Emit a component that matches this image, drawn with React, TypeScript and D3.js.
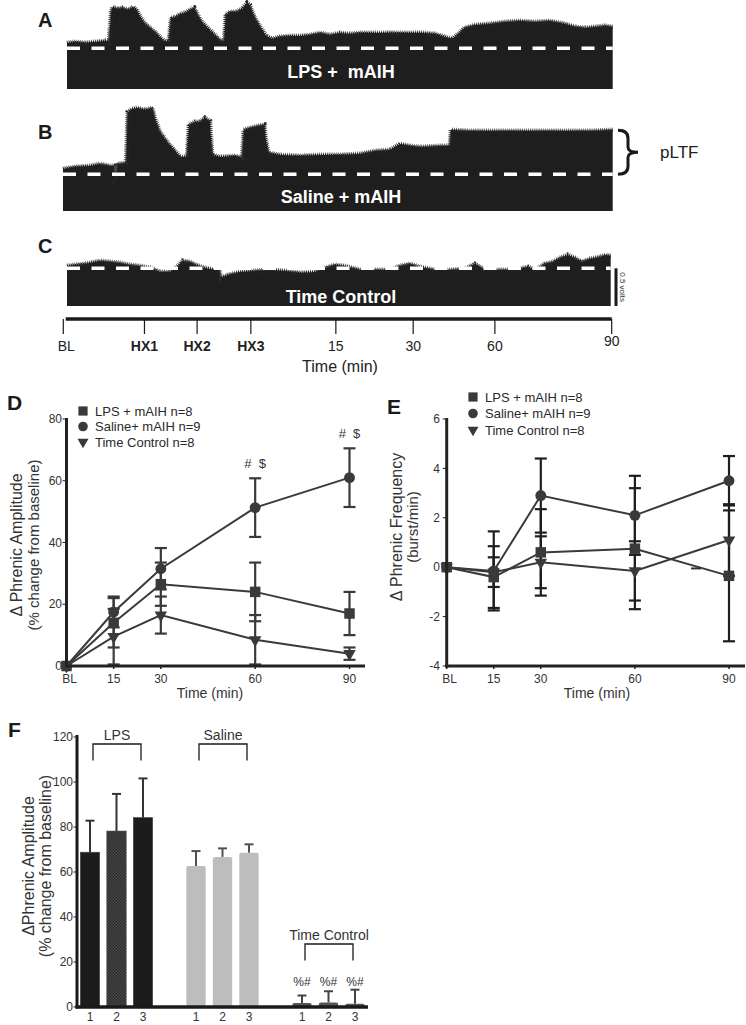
import React from 'react';
import * as d3 from 'd3';

const FONT = 'Liberation Sans, Arial, Helvetica, sans-serif';

// ---------- Raw traces: [percent of recording, volts relative to baseline] ----------
const traceA: [number, number][] = [
  [0, 0.065], [1.5, 0.077], [3.3, 0.065], [5.1, 0.077], [7.0, 0.09], [7.7, 0.077], [8.1, 0.446], [8.4, 0.507],
  [9.3, 0.483], [10.1, 0.495], [11.2, 0.47], [12.1, 0.507], [12.8, 0.47], [13.4, 0.385], [14.3, 0.3], [15.2, 0.25],
  [16.1, 0.2], [17.0, 0.139], [18.0, 0.077], [18.7, 0.1], [19.1, 0.372], [19.8, 0.38], [20.7, 0.42], [21.6, 0.434],
  [22.5, 0.47], [23.3, 0.495], [23.8, 0.42], [24.7, 0.323], [25.8, 0.25], [26.9, 0.176], [28.0, 0.1], [28.8, 0.077],
  [29.1, 0.41], [29.9, 0.446], [31.0, 0.446], [32.1, 0.483], [33.0, 0.556], [33.5, 0.532], [34.3, 0.385],
  [35.4, 0.262], [36.5, 0.151], [37.6, 0.114], [39.0, 0.139], [40.9, 0.151], [42.7, 0.151], [44.5, 0.163],
  [46.4, 0.188], [48.2, 0.163], [50.0, 0.188], [51.9, 0.176], [53.7, 0.188], [56.4, 0.188], [59.2, 0.19],
  [61.9, 0.188], [64.7, 0.19], [67.4, 0.176], [69.3, 0.139], [70.6, 0.114], [71.7, 0.176], [72.9, 0.25],
  [74.8, 0.286], [77.5, 0.3], [80.3, 0.323], [83.0, 0.335], [85.8, 0.323], [88.5, 0.335], [91.3, 0.3],
  [93.1, 0.262], [94.9, 0.25], [96.8, 0.262], [98.6, 0.275], [100, 0.262],
];

const traceB: [number, number][] = [
  [0, 0.072], [2.2, 0.099], [4.9, 0.113], [6.7, 0.14], [8.6, 0.113], [9.3, 0.113], [9.5, -0.091], [9.7, -0.091],
  [9.9, 0.14], [11.5, 0.154], [11.8, 0.849], [12.6, 0.89], [13.6, 0.903], [14.9, 0.876], [16.2, 0.903],
  [16.7, 0.767], [17.6, 0.576], [19.1, 0.426], [20.4, 0.317], [21.3, 0.236], [22.6, 0.236], [22.9, 0.672],
  [24.0, 0.712], [24.9, 0.712], [25.8, 0.767], [26.7, 0.726], [27.1, 0.263], [28.6, 0.236], [31.3, 0.249],
  [32.6, 0.222], [32.9, 0.603], [34.0, 0.63], [35.5, 0.658], [36.6, 0.672], [36.9, 0.467], [37.3, 0.29],
  [39.5, 0.263], [43.1, 0.249], [46.8, 0.263], [50.4, 0.263], [54.0, 0.277], [56.8, 0.317], [59.5, 0.331],
  [61.3, 0.412], [63.1, 0.385], [65.0, 0.371], [68.6, 0.385], [70.4, 0.385], [70.6, 0.603], [74.0, 0.589],
  [79.5, 0.589], [85.0, 0.589], [90.4, 0.589], [95.9, 0.589], [100, 0.603],
];

const traceC: [number, number][] = [
  [0, 0.03], [1.5, 0.044], [3.3, 0.057], [5.1, 0.084], [6.1, 0.097], [7.9, 0.084], [9.7, 0.07], [11.6, 0.044],
  [13.4, 0.03], [15.3, 0.004], [17.1, -0.049], [18.9, -0.049], [20.4, 0.03], [21.3, 0.097], [22.6, 0.084],
  [23.7, 0.044], [25.4, 0.004], [27.2, -0.023], [28.0, -0.023], [28.3, -0.129], [29.6, -0.089], [31.8, -0.049],
  [34.6, -0.036], [37.3, -0.023], [40.1, -0.036], [42.9, -0.062], [45.6, -0.049], [47.5, 0.004], [49.3, 0.044],
  [51.1, 0.03], [53.9, -0.023], [56.6, -0.023], [59.4, -0.023], [61.2, 0.03], [63.1, 0.057], [64.9, 0.017],
  [67.7, -0.023], [70.4, -0.023], [73.2, -0.009], [75.0, 0.057], [76.8, -0.023], [79.6, -0.023], [82.4, -0.023],
  [84.8, 0.017], [86.1, -0.023], [87.9, 0.057], [89.4, 0.084], [90.7, 0.137], [92.1, 0.176], [93.4, 0.137],
  [94.7, 0.084], [96.2, 0.123], [98.0, 0.15], [99.1, 0.176], [100, 0.163],
];

const traceLabels = ['LPS +  mAIH', 'Saline + mAIH', 'Time Control'];
const traceLetters = ['A', 'B', 'C'];
const pltfLevel = 0.6;

// time axis under traces (percent of recording)
const timeAxisLabels = ['BL', 'HX1', 'HX2', 'HX3', '15', '30', '60', '90'];
const timeAxisPos = [0, 14.8, 24.4, 34.2, 49.7, 63.8, 78.7, 100];

// ---------- Panels D & E ----------
const timeMin = [0, 15, 30, 60, 90];
const timeTickLabels = ['BL', '15', '30', '60', '90'];
const seriesNames = ['LPS + mAIH n=8', 'Saline+ mAIH n=9', 'Time Control n=8'];

const ampLPS = [0, 14, 26.5, 24, 17];
const ampLPSse = [0, 8, 7, 9.5, 7];
const ampSal = [0, 17.5, 31.5, 51.3, 61];
const ampSalse = [0, 5, 6.7, 9.5, 9.5];
const ampTC = [0, 9.5, 16.5, 8.5, 4];
const ampTCse = [0, 9, 6, 8, 2];
const ampTicks = [0, 20, 40, 60, 80];
const ampSigIdx = [3, 4];

const freqLPS = [0, -0.4, 0.6, 0.75, -0.35];
const freqLPSse = [0, 1.25, 1.75, 2.45, 2.65];
const freqSal = [0, -0.15, 2.9, 2.1, 3.5];
const freqSalse = [0, 1.6, 1.5, 1.6, 1.0];
const freqTC = [0, -0.2, 0.2, -0.15, 1.1];
const freqTCse = [0, 0.6, 1.05, 1.2, 1.45];
const freqTicks = [-4, -2, 0, 2, 4, 6];
const freqStray = { t: 79.5, v: -0.05 };

// ---------- Panel F ----------
const fGroups = ['LPS', 'Saline', 'Time Control'];
const fBarLabels = ['1', '2', '3'];
const fValues = [[68.8, 78.2, 84.2], [62.7, 66.7, 68.6], [1.8, 2.0, 1.5]];
const fErrors = [[14, 16.5, 17.4], [6.6, 3.8, 3.7], [3.3, 5.0, 6.2]];
const fSig = ['%#', '%#', '%#'];
const fTicks = [0, 20, 40, 60, 80, 100, 120];

function Trace({ data, x0, x1, base, bottom }: any) {
  const xs = d3.scaleLinear().domain([0, 100]).range([x0, x1]);
  const ys = d3.scaleLinear().domain([-0.5, 0]).range([bottom, base]);
  const area = d3.area<[number, number]>().x(d => xs(d[0])).y0(bottom).y1(d => ys(d[1]));
  const line = d3.line<[number, number]>().x(d => xs(d[0])).y(d => ys(d[1]));
  const ld = line(data) || '';
  return (
    <g>
      <path d={area(data) || ''} fill="#1e1e1e" />
      <path d={ld} fill="none" stroke="#2a2a2a" strokeWidth={5} strokeDasharray="0.6 1.3" />
      <path d={ld} fill="none" stroke="#1e1e1e" strokeWidth={2.5} strokeDasharray="1.2 0.8" />
      <line x1={x0} x2={x1} y1={base} y2={base} stroke="#fff" strokeWidth={3.5} strokeDasharray="13 11.5" />
    </g>
  );
}

function symbolPath(kind: number, size: number) {
  if (kind === 0) return d3.symbol().type(d3.symbolSquare).size(size)() || '';
  if (kind === 1) return d3.symbol().type(d3.symbolCircle).size(size * 0.85)() || '';
  return d3.symbol().type(d3.symbolTriangle).size(size * 0.62)() || '';
}

function LinePanel({ xS, yS, series, ses, color, ebColor, legendX, legendY, legendDy }: any) {
  return (
    <g>
      {series.map((vals: number[], si: number) => (
        <g key={'eb' + si}>
          {vals.map((v, i) => ses[si][i] > 0 ? (
            <g key={i} stroke={ebColor} strokeWidth={2.2}>
              <line x1={xS(timeMin[i])} x2={xS(timeMin[i])} y1={yS(v - ses[si][i])} y2={yS(v + ses[si][i])} />
              <line x1={xS(timeMin[i]) - 6} x2={xS(timeMin[i]) + 6} y1={yS(v - ses[si][i])} y2={yS(v - ses[si][i])} />
              <line x1={xS(timeMin[i]) - 6} x2={xS(timeMin[i]) + 6} y1={yS(v + ses[si][i])} y2={yS(v + ses[si][i])} />
            </g>
          ) : null)}
        </g>
      ))}
      {series.map((vals: number[], si: number) => {
        const ln = d3.line<number>().x((_, i) => xS(timeMin[i])).y(d => yS(d));
        return <path key={'l' + si} d={ln(vals) || ''} fill="none" stroke={color} strokeWidth={2} />;
      })}
      {series.map((vals: number[], si: number) => (
        <g key={'m' + si}>
          {vals.map((v, i) => (
            <path key={i} d={symbolPath(si, 110)} fill={color}
              transform={`translate(${xS(timeMin[i])},${yS(v)})${si === 2 ? ' rotate(180)' : ''}`} />
          ))}
        </g>
      ))}
      {seriesNames.map((n, si) => (
        <g key={'lg' + si}>
          <path d={symbolPath(si, 85)} fill={color}
            transform={`translate(${legendX},${legendY + si * legendDy})${si === 2 ? ' rotate(180)' : ''}`} />
          <text x={legendX + 12} y={legendY + si * legendDy} dy="0.36em" fontSize={13} fill="#2a2a2a">{n}</text>
        </g>
      ))}
    </g>
  );
}

export default function App() {
  const W = 746, H = 1025;
  const traces = [traceA, traceB, traceC];
  const boxes = [
    { x0: 67, x1: 612.7, base: 48.3, bottom: 89, letterY: 27, labelY: 78 },
    { x0: 63, x1: 612.7, base: 174.3, bottom: 211, letterY: 139, labelY: 203 },
    { x0: 67, x1: 610.7, base: 268.3, bottom: 306, letterY: 253, labelY: 302.5 },
  ];
  const yB = d3.scaleLinear().domain([-0.5, 0]).range([boxes[1].bottom, boxes[1].base]);
  const yC = d3.scaleLinear().domain([-0.5, 0]).range([boxes[2].bottom, boxes[2].base]);
  const tAx = d3.scaleLinear().domain([0, 100]).range([63.3, 611.7]);

  // brace
  const braceTop = yB(pltfLevel), braceBot = yB(0), braceMid = (braceTop + braceBot) / 2;
  const bx = 618;
  const braceD = `M${bx},${braceTop} Q${bx + 10},${braceTop} ${bx + 10},${braceTop + 8} L${bx + 10},${braceMid - 5} Q${bx + 10},${braceMid} ${bx + 20},${braceMid} Q${bx + 10},${braceMid} ${bx + 10},${braceMid + 5} L${bx + 10},${braceBot - 8} Q${bx + 10},${braceBot} ${bx},${braceBot}`;

  // Panel D
  const dX = d3.scaleLinear().domain([0, 90]).range([66.5, 349.5]);
  const dY = d3.scaleLinear().domain([0, 80]).range([666, 419]);
  // Panel E
  const eX = d3.scaleLinear().domain([0, 90]).range([446.7, 729]);
  const eY = d3.scaleLinear().domain([-4, 6]).range([666, 419]);
  // Panel F
  const slots = d3.range(11).map(String);
  const fX = d3.scaleBand<string>().domain(slots).range([76.75, 368.25]).paddingInner(0.27).paddingOuter(0.135);
  const fY = d3.scaleLinear().domain([0, 120]).range([1007, 737]);
  const slotOf = (g: number, k: number) => String(g * 4 + k);
  const fColors = ['#1c1c1c', '#bdbdbd', '#555555'];
  const fEb = ['#333', '#505050', '#444'];
  const bracketTopVals = [116.9, 116.9, 28];
  const bracketDepth = 7.3;

  return (
    <svg width={W} height={H} viewBox={`0 0 ${W} ${H}`}
      style={{ position: 'absolute', left: 0, top: 0, display: 'block', background: '#fff', fontFamily: FONT }}
      fontFamily={FONT}>
      <defs>
        <pattern id="hatch" width="3" height="3" patternUnits="userSpaceOnUse">
          <rect width="3" height="3" fill="#2a2a2a" />
          <rect width="1.5" height="1.5" fill="#4a4a4a" />
          <rect x="1.5" y="1.5" width="1.5" height="1.5" fill="#4a4a4a" />
        </pattern>
      </defs>

      {/* ---------- Traces A, B, C ---------- */}
      {traces.map((t, i) => (
        <g key={'tr' + i}>
          <Trace data={t} {...boxes[i]} />
          <text x={38} y={boxes[i].letterY} fontSize={20} fontWeight="bold" fill="#1a1a1a">{traceLetters[i]}</text>
          <text x={341} y={boxes[i].labelY} fontSize={18} fontWeight="bold" fill="#fff" textAnchor="middle"
            style={{ whiteSpace: 'pre' }}>{traceLabels[i]}</text>
        </g>
      ))}
      <path d={braceD} fill="none" stroke="#1a1a1a" strokeWidth={3} />
      <text x={660} y={braceMid} dy="0.36em" fontSize={17} fill="#222">pLTF</text>

      {/* scale bar */}
      <line x1={616} x2={616} y1={yC(0)} y2={yC(-0.5)} stroke="#1a1a1a" strokeWidth={3} />
      <text transform={`translate(623,${(yC(0) + yC(-0.5)) / 2}) rotate(90)`} textAnchor="middle" dy="0.35em"
        fontSize={8} fill="#333">0.5 volts</text>

      {/* time axis */}
      <line x1={tAx(0) + 2.4} x2={tAx(100)} y1={319} y2={319} stroke="#1a1a1a" strokeWidth={3.5} />
      {timeAxisPos.map((p, i) => (
        <g key={'ta' + i}>
          <line x1={tAx(p)} x2={tAx(p)} y1={319} y2={334} stroke="#1a1a1a" strokeWidth={1.2} />
          <text x={tAx(p) + (i === 0 ? 3 : 0)} y={i === 7 ? 346 : 351} textAnchor="middle" fontSize={14}
            fontWeight={i >= 1 && i <= 3 ? 'bold' : 'normal'} fill="#222">{timeAxisLabels[i]}</text>
        </g>
      ))}
      <text x={340} y={372} textAnchor="middle" fontSize={16} fill="#222">Time (min)</text>

      {/* ---------- Panel D ---------- */}
      <text x={7} y={410} fontSize={21} fontWeight="bold" fill="#1a1a1a">D</text>
      {ampTicks.map(t => (
        <g key={'dt' + t}>
          <line x1={dX(0) - 4} x2={dX(0)} y1={dY(t)} y2={dY(t)} stroke="#222" strokeWidth={1} />
          <text x={62} y={dY(t)} dy="0.35em" textAnchor="end" fontSize={12} fill="#333">{t}</text>
        </g>
      ))}
      {timeMin.map((t, i) => (
        <g key={'dx' + i}>
          <line x1={dX(t)} x2={dX(t)} y1={666} y2={669} stroke="#222" strokeWidth={1.5} />
          <text x={dX(t) + (i === 0 ? 3 : 0)} y={683} textAnchor="middle" fontSize={12} fill="#333">{timeTickLabels[i]}</text>
        </g>
      ))}
      <text x={210} y={698} textAnchor="middle" fontSize={14} fill="#333">Time (min)</text>
      <text transform={`translate(16,545) rotate(-90)`} textAnchor="middle" dy="0.35em" fontSize={16} fill="#333">Δ Phrenic Amplitude</text>
      <text transform={`translate(34,545) rotate(-90)`} textAnchor="middle" dy="0.35em" fontSize={15} fill="#333">(% change from baseline)</text>
      <LinePanel xS={dX} yS={dY} series={[ampLPS, ampSal, ampTC]} ses={[ampLPSse, ampSalse, ampTCse]}
        color="#3a3a3a" ebColor="#3a3a3a" legendX={83} legendY={411} legendDy={15.5} />
      {ampSigIdx.map(i => (
        <text key={'sig' + i} x={dX(timeMin[i])} y={dY(ampSal[i] + ampSalse[i]) - 10} textAnchor="middle"
          fontSize={13} fill="#333" style={{ whiteSpace: 'pre' }}>#  $</text>
      ))}
      <line x1={dX(0)} x2={dX(0)} y1={418} y2={667.5} stroke="#222" strokeWidth={3} />
      <line x1={dX(0) - 1.5} x2={365} y1={666} y2={666} stroke="#222" strokeWidth={3} />

      {/* ---------- Panel E ---------- */}
      <text x={387} y={414} fontSize={21} fontWeight="bold" fill="#1a1a1a">E</text>
      {freqTicks.map(t => (
        <g key={'et' + t}>
          <line x1={eX(0) - 4} x2={eX(0)} y1={eY(t)} y2={eY(t)} stroke="#222" strokeWidth={1} />
          <text x={440} y={eY(t)} dy="0.35em" textAnchor="end" fontSize={12} fill="#333">{t}</text>
        </g>
      ))}
      {timeMin.map((t, i) => (
        <g key={'ex' + i}>
          <line x1={eX(t)} x2={eX(t)} y1={666} y2={669} stroke="#222" strokeWidth={1.5} />
          <text x={eX(t) + (i === 0 ? 3 : 0)} y={683} textAnchor="middle" fontSize={12} fill="#333">{timeTickLabels[i]}</text>
        </g>
      ))}
      <text x={597} y={698} textAnchor="middle" fontSize={14} fill="#333">Time (min)</text>
      <text transform={`translate(396,527) rotate(-90)`} textAnchor="middle" dy="0.35em" fontSize={16} fill="#333">Δ Phrenic Frequency</text>
      <text transform={`translate(413,527) rotate(-90)`} textAnchor="middle" dy="0.35em" fontSize={15} fill="#333">(burst/min)</text>
      <LinePanel xS={eX} yS={eY} series={[freqLPS, freqSal, freqTC]} ses={[freqLPSse, freqSalse, freqTCse]}
        color="#3a3a3a" ebColor="#1e1e1e" legendX={473} legendY={397} legendDy={16.5} />
      <line x1={eX(freqStray.t) - 5} x2={eX(freqStray.t) + 5} y1={eY(freqStray.v)} y2={eY(freqStray.v)} stroke="#333" strokeWidth={2} />
      <line x1={eX(0)} x2={eX(0)} y1={418} y2={667.5} stroke="#222" strokeWidth={3} />
      <line x1={eX(0) - 1.5} x2={745} y1={666} y2={666} stroke="#222" strokeWidth={3} />

      {/* ---------- Panel F ---------- */}
      <text x={8} y={737} fontSize={21} fontWeight="bold" fill="#1a1a1a">F</text>
      {fTicks.map(t => (
        <g key={'ft' + t}>
          <line x1={73.5} x2={77} y1={fY(t)} y2={fY(t)} stroke="#222" strokeWidth={1} />
          <text x={73} y={fY(t)} dy="0.35em" textAnchor="end" fontSize={12} fill="#333">{t}</text>
        </g>
      ))}
      <text transform={`translate(28,866) rotate(-90)`} textAnchor="middle" dy="0.35em" fontSize={16} fill="#333">ΔPhrenic Amplitude</text>
      <text transform={`translate(45,866) rotate(-90)`} textAnchor="middle" dy="0.35em" fontSize={16} fill="#333">(% change from baseline)</text>
      {fValues.map((vals, g) => (
        <g key={'fg' + g}>
          {vals.map((v, k) => {
            const x = fX(slotOf(g, k)) as number;
            const bw = fX.bandwidth();
            const cx = x + bw / 2;
            const top = fY(v + fErrors[g][k]);
            return (
              <g key={k}>
                <line x1={cx} x2={cx} y1={fY(v)} y2={top} stroke={fEb[g]} strokeWidth={2} />
                <line x1={cx - 4.5} x2={cx + 4.5} y1={top} y2={top} stroke={fEb[g]} strokeWidth={2} />
                <rect x={x} y={fY(v)} width={bw} height={fY(0) - fY(v)} rx={g === 0 ? 0 : 2}
                  fill={g === 0 && k === 1 ? 'url(#hatch)' : fColors[g]} stroke={g === 0 ? '#444' : 'none'} strokeWidth={0.6} />
                <text x={cx} y={1021} textAnchor="middle" fontSize={12} fill="#333">{fBarLabels[k]}</text>
                {g === 2 ? <text x={cx} y={986} textAnchor="middle" fontSize={12} fill="#333">{fSig[k]}</text> : null}
              </g>
            );
          })}
          {(() => {
            const x1 = (fX(slotOf(g, 0)) as number) + fX.bandwidth() / 2 + 3;
            const x2 = (fX(slotOf(g, 2)) as number) + fX.bandwidth() / 2 - 2;
            const yt = fY(bracketTopVals[g]);
            const yb = fY(bracketTopVals[g] - bracketDepth);
            return (
              <g>
                <path d={`M${x1},${yb} L${x1},${yt} L${x2},${yt} L${x2},${yb}`} fill="none" stroke="#1a1a1a" strokeWidth={1.3} />
                <text x={(x1 + x2) / 2} y={yt - 4} textAnchor="middle" fontSize={14} fill="#333">{fGroups[g]}</text>
              </g>
            );
          })()}
        </g>
      ))}
      <line x1={77} x2={77} y1={735} y2={1008.5} stroke="#1a1a1a" strokeWidth={3} />
      <line x1={75.5} x2={368} y1={1007} y2={1007} stroke="#1a1a1a" strokeWidth={3.5} />
    </svg>
  );
}
